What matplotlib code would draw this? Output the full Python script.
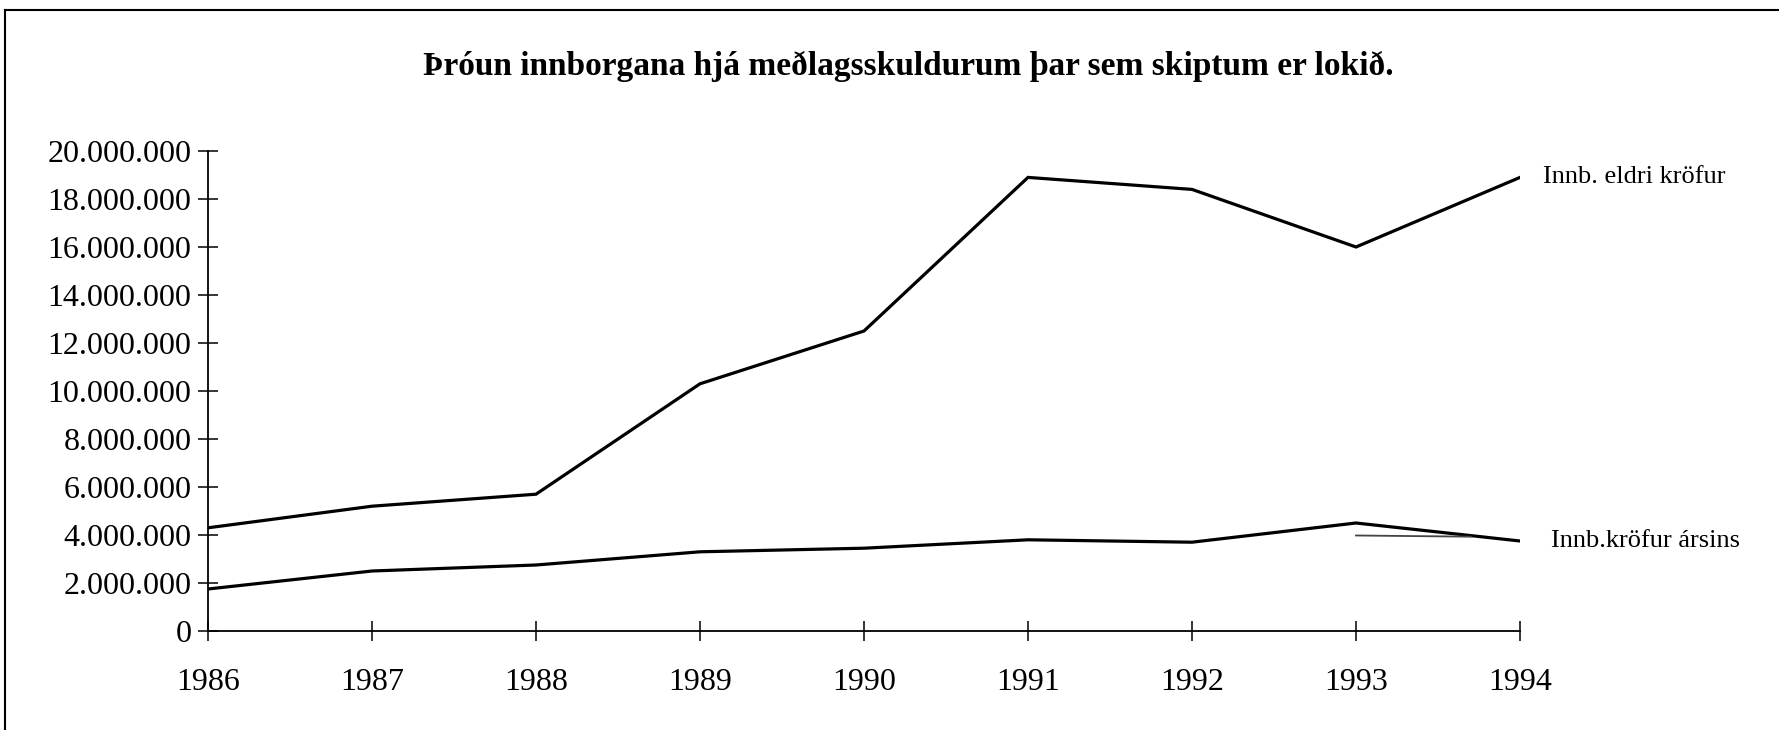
import matplotlib.pyplot as plt
from matplotlib.ticker import FuncFormatter
from matplotlib.lines import Line2D

years = [1986, 1987, 1988, 1989, 1990, 1991, 1992, 1993, 1994]
eldri = [4.3e6, 5.2e6, 5.7e6, 10.3e6, 12.5e6, 18.9e6, 18.4e6, 16.0e6, 18.9e6]
arsins = [1.75e6, 2.5e6, 2.75e6, 3.3e6, 3.45e6, 3.8e6, 3.7e6, 4.5e6, 3.75e6]
# faint stray segment near the 1993 point
stray_x = [1993, 1993.7]
stray_y = [3.98e6, 3.93e6]

title = "Þróun innborgana hjá meðlagsskuldurum þar sem skiptum er lokið."
label_eldri = "Innb. eldri kröfur"
label_arsins = "Innb.kröfur ársins"

plt.rcParams['font.family'] = ['Liberation Serif', 'DejaVu Serif']

fig = plt.figure(figsize=(17.79, 7.30), dpi=100)
ax = fig.add_axes([208/1779, 1 - 631/730, (1520 - 208)/1779, (631 - 151)/730])

ax.plot(years, eldri, color='black', lw=2.3, solid_joinstyle='miter')
ax.plot(years, arsins, color='black', lw=2.3, solid_joinstyle='miter')
ax.plot(stray_x, stray_y, color='#444444', lw=1.3)

ax.set_xlim(1986, 1994)
ax.set_ylim(0, 20e6)
ax.set_xticks(years)
ax.set_yticks(range(0, 20000001, 2000000))
ax.yaxis.set_major_formatter(FuncFormatter(lambda v, p: f"{int(v):,}".replace(",", ".")))

for s in ['top', 'right']:
    ax.spines[s].set_visible(False)
for s in ['left', 'bottom']:
    ax.spines[s].set_linewidth(1.3)

ax.tick_params(axis='both', direction='inout', length=14, width=1.1, labelsize=23)
ax.tick_params(axis='x', pad=20)
ax.tick_params(axis='y', pad=5)

ax.text(1.0175, eldri[-1] / 20e6, label_eldri, transform=ax.transAxes,
        fontsize=19, va='center', ha='left')
ax.text(1.0235, arsins[-1] / 20e6, label_arsins, transform=ax.transAxes,
        fontsize=19, va='center', ha='left')

fig.text(908/1779, 1 - 66/730, title, fontsize=24, fontweight='bold',
         ha='center', va='center')

# page border from the scan
fig.add_artist(Line2D([5/1779, 5/1779], [0, 1 - 10/730], transform=fig.transFigure,
                      color='black', lw=1.5))
fig.add_artist(Line2D([5/1779, 1], [1 - 10/730, 1 - 10/730], transform=fig.transFigure,
                      color='black', lw=1.5))

fig.savefig("out.png", dpi=100)
